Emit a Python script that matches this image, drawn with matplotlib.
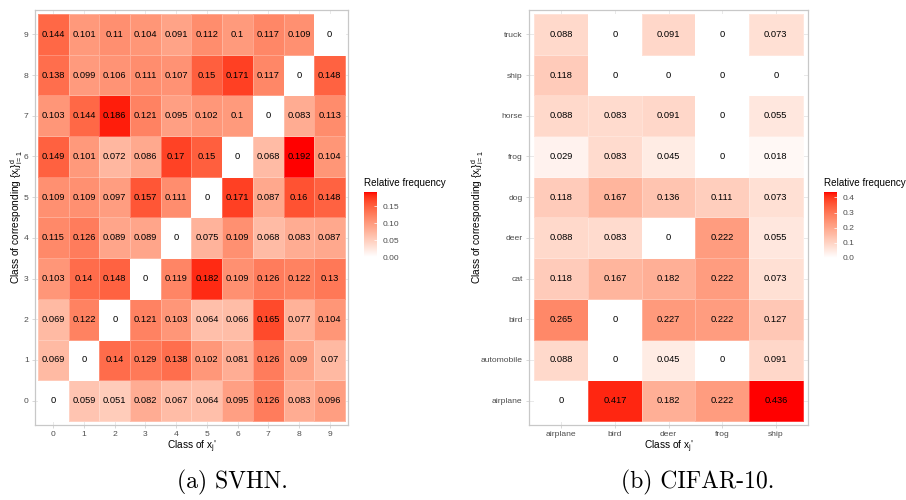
import matplotlib
matplotlib.use('Agg')
import matplotlib.pyplot as plt
import numpy as np
from matplotlib.colors import ListedColormap

plt.rcParams['font.family'] = 'Liberation Sans'
plt.rcParams['mathtext.fontset'] = 'custom'
plt.rcParams['mathtext.rm'] = 'Liberation Sans'
plt.rcParams['mathtext.it'] = 'Liberation Sans'
plt.rcParams['mathtext.bf'] = 'Liberation Sans:bold'

# SVHN: rows are class of corresponding x (0 at bottom), columns class of x_j'
svhn_classes = ['0', '1', '2', '3', '4', '5', '6', '7', '8', '9']
svhn_freq = [
    [0, 0.059, 0.051, 0.082, 0.067, 0.064, 0.095, 0.126, 0.083, 0.096],
    [0.069, 0, 0.14, 0.129, 0.138, 0.102, 0.081, 0.126, 0.09, 0.07],
    [0.069, 0.122, 0, 0.121, 0.103, 0.064, 0.066, 0.165, 0.077, 0.104],
    [0.103, 0.14, 0.148, 0, 0.119, 0.182, 0.109, 0.126, 0.122, 0.13],
    [0.115, 0.126, 0.089, 0.089, 0, 0.075, 0.109, 0.068, 0.083, 0.087],
    [0.109, 0.109, 0.097, 0.157, 0.111, 0, 0.171, 0.087, 0.16, 0.148],
    [0.149, 0.101, 0.072, 0.086, 0.17, 0.15, 0, 0.068, 0.192, 0.104],
    [0.103, 0.144, 0.186, 0.121, 0.095, 0.102, 0.1, 0, 0.083, 0.113],
    [0.138, 0.099, 0.106, 0.111, 0.107, 0.15, 0.171, 0.117, 0, 0.148],
    [0.144, 0.101, 0.11, 0.104, 0.091, 0.112, 0.1, 0.117, 0.109, 0],
]

# CIFAR-10
cifar_cols = ['airplane', 'bird', 'deer', 'frog', 'ship']
cifar_rows = ['airplane', 'automobile', 'bird', 'cat', 'deer',
              'dog', 'frog', 'horse', 'ship', 'truck']
cifar_freq = [
    [0, 0.417, 0.182, 0.222, 0.436],
    [0.088, 0, 0.045, 0, 0.091],
    [0.265, 0, 0.227, 0.222, 0.127],
    [0.118, 0.167, 0.182, 0.222, 0.073],
    [0.088, 0.083, 0, 0.222, 0.055],
    [0.118, 0.167, 0.136, 0.111, 0.073],
    [0.029, 0.083, 0.045, 0, 0.018],
    [0.088, 0.083, 0.091, 0, 0.055],
    [0.118, 0, 0, 0, 0],
    [0.088, 0, 0.091, 0, 0.073],
]

# white -> red gradient interpolated in Lab, like ggplot's scale_fill_gradient
M = np.array([[0.4124, 0.3576, 0.1805],
              [0.2126, 0.7152, 0.0722],
              [0.0193, 0.1192, 0.9505]])
WHITE = M @ np.ones(3)


def to_lab(rgb):
    c = np.asarray(rgb, float)
    lin = np.where(c <= 0.04045, c / 12.92, ((c + 0.055) / 1.055) ** 2.4)
    t = (M @ lin) / WHITE
    f = np.where(t > (6 / 29) ** 3, np.cbrt(t), t / (3 * (6 / 29) ** 2) + 4 / 29)
    return np.array([116 * f[1] - 16, 500 * (f[0] - f[1]), 200 * (f[1] - f[2])])


def from_lab(lab):
    L, a, b = lab
    fy = (L + 16) / 116
    f = np.array([fy + a / 500, fy, fy - b / 200])
    t = np.where(f > 6 / 29, f ** 3, 3 * (6 / 29) ** 2 * (f - 4 / 29))
    lin = np.linalg.solve(M, t * WHITE)
    lin = np.clip(lin, 0, 1)
    c = np.where(lin <= 0.0031308, 12.92 * lin, 1.055 * lin ** (1 / 2.4) - 0.055)
    return np.clip(c, 0, 1)


lab_lo, lab_hi = to_lab([1, 1, 1]), to_lab([1, 0, 0])
cmap = ListedColormap([from_lab(lab_lo + t * (lab_hi - lab_lo)) for t in np.linspace(0, 1, 256)])

W, H = 906, 500
fig = plt.figure(figsize=(W / 100, H / 100), dpi=100)


def panel(ax_px, cb_px, data, xlabels, ylabels, ticks, fmt, ylab_x, caption, cap_x):
    data = np.array(data)
    ny, nx = data.shape
    x0, y0, x1, y1 = ax_px
    ax = fig.add_axes([x0 / W, 1 - y1 / H, (x1 - x0) / W, (y1 - y0) / H])
    ax.set_axisbelow(True)
    ax.grid(color='#E0E0E0', lw=0.5)
    mesh = ax.pcolormesh(np.arange(nx + 1) - 0.5, np.arange(ny + 1) - 0.5, data,
                         cmap=cmap, vmin=0, vmax=data.max(),
                         edgecolors=(1, 1, 1, 0.25), linewidth=0.4)
    for i in range(ny):
        for j in range(nx):
            ax.text(j, i, f"{data[i, j]:g}", ha='center', va='center', fontsize=6.7)
    ax.set_xlim(-0.6, nx - 0.4)
    ax.set_ylim(-0.6, ny - 0.4)
    ax.set_xticks(range(nx))
    ax.set_xticklabels(xlabels)
    ax.set_yticks(range(ny))
    ax.set_yticklabels(ylabels)
    for s in ax.spines.values():
        s.set_color('#C8C8C8')
        s.set_linewidth(0.9)
    ax.tick_params(color='#C8C8C8', length=2.5, width=0.5, labelcolor='#4D4D4D',
                   labelsize=6.1, pad=2)
    ax.set_xlabel(r"Class of $\mathregular{x_j}$'", fontsize=7.3)
    ax.xaxis.set_label_coords(0.5, -0.033)
    ax.set_ylabel(r"Class of corresponding $\{x_i\}_{i=1}^d$", fontsize=7.3)
    ax.yaxis.set_label_coords((ylab_x - x0) / (x1 - x0), 0.5)

    cx0, cy0, cx1, cy1 = cb_px
    cax = fig.add_axes([cx0 / W, 1 - cy1 / H, (cx1 - cx0) / W, (cy1 - cy0) / H])
    cb = fig.colorbar(mesh, cax=cax)
    cb.outline.set_visible(False)
    cb.set_ticks(ticks)
    cb.set_ticklabels([fmt % t for t in ticks])
    cax.tick_params(length=2.5, width=0.5, color='white', direction='in',
                    labelsize=6.1, labelcolor='#4D4D4D', pad=4)
    fig.text(cx0 / W, 1 - (cy0 - 9) / H, "Relative frequency", fontsize=7.1, va='center')

    fig.text(cap_x / W, 1 - 482 / H, caption, family='cmr10', fontsize=17,
             ha='center', va='center')


panel((35, 10, 348, 425), (364, 192, 377, 257), svhn_freq, svhn_classes, svhn_classes,
      [0, 0.05, 0.1, 0.15], '%.2f', 25, '(a) SVHN.', 232)
panel((529, 10, 808, 425), (824, 192, 837, 258), cifar_freq, cifar_cols, cifar_rows,
      [0, 0.1, 0.2, 0.3, 0.4], '%.1f', 486, '(b) CIFAR-10.', 698)

fig.savefig('out.png', dpi=100)
